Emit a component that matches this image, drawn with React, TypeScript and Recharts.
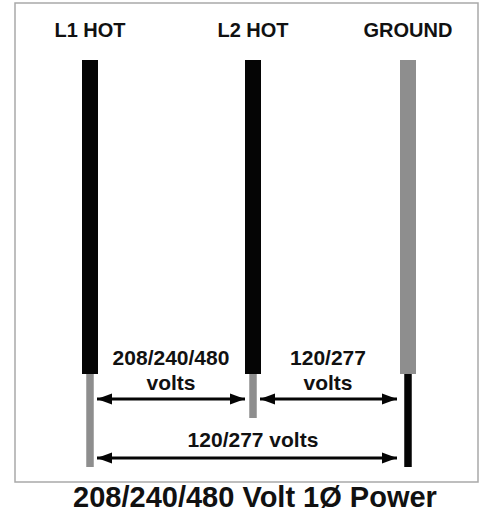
import { ComposedChart, Line, Scatter, XAxis, YAxis, ReferenceArea } from 'recharts';

// wires, left to right
const WIRE_NAMES = ['L1 HOT', 'L2 HOT', 'GROUND'];
const WIRE_X = [90, 253, 408];
const WIRE_TOP = [60, 60, 60];
const WIRE_SPLIT = [374, 374, 374];
const WIRE_END = [467, 418, 467];
const UPPER_IS_BLACK = [true, true, false];

// voltage spans between wires
const SPAN_FROM = [97, 260, 97];
const SPAN_TO = [245, 397, 397];
const SPAN_Y = [399, 399, 458];

// text labels
const HEADER_Y = [37, 37, 37];
const VOLT_TEXT = ['208/240/480', 'volts', '120/277', 'volts', '120/277 volts'];
const VOLT_X = [171, 171, 328, 328, 253];
const VOLT_Y = [365, 390, 365, 390, 447];
const TITLE = '208/240/480 Volt 1Ø Power';

const W = 480;
const H = 514;
const BLACK = '#050505';
const GRAY = '#8e8e8e';
const FONT = '"Liberation Sans", Arial, Helvetica, sans-serif';

const headerData = WIRE_NAMES.map((name, i) => ({ x: WIRE_X[i], y: HEADER_Y[i], text: name }));
const voltData = VOLT_TEXT.map((text, i) => ({ x: VOLT_X[i], y: VOLT_Y[i], text }));
const titleData = [{ x: 255, y: 507, text: TITLE }];

const makeText = (size: number) => (props: any) => {
  const { cx, cy, payload } = props;
  return (
    <text
      x={cx}
      y={cy}
      textAnchor="middle"
      fontFamily={FONT}
      fontWeight="bold"
      fontSize={size}
      fill="#111"
    >
      {payload.text}
    </text>
  );
};

const arrowDot = (props: any) => {
  const { cx, cy, index } = props;
  const dir = index === 0 ? 1 : -1;
  const len = 15;
  const half = 5.5;
  return (
    <path
      key={`a-${index}-${cx}`}
      d={`M${cx},${cy} L${cx + dir * len},${cy - half} L${cx + dir * len},${cy + half} Z`}
      fill={BLACK}
    />
  );
};

export default function App() {
  return (
    <div style={{ position: 'fixed', top: 0, left: 0, background: '#fff' }}>
      <ComposedChart width={W} height={H} margin={{ top: 0, right: 0, bottom: 0, left: 0 }}>
        <XAxis type="number" dataKey="x" domain={[0, W]} hide allowDataOverflow />
        <YAxis type="number" dataKey="y" domain={[0, H]} reversed hide allowDataOverflow />
        <ReferenceArea x1={15} x2={478} y1={3} y2={482} fill="#fff" fillOpacity={1} stroke="#a9a9a9" strokeWidth={1.5} ifOverflow="visible" />

        {WIRE_NAMES.map((name, i) => (
          <Line
            key={`up-${name}`}
            data={[{ x: WIRE_X[i], y: WIRE_TOP[i] }, { x: WIRE_X[i], y: WIRE_SPLIT[i] }]}
            dataKey="y"
            stroke={UPPER_IS_BLACK[i] ? BLACK : GRAY}
            strokeWidth={16}
            strokeLinecap="butt"
            dot={false}
            activeDot={false}
            isAnimationActive={false}
          />
        ))}
        {WIRE_NAMES.map((name, i) => (
          <Line
            key={`low-${name}`}
            data={[{ x: WIRE_X[i], y: WIRE_SPLIT[i] }, { x: WIRE_X[i], y: WIRE_END[i] }]}
            dataKey="y"
            stroke={UPPER_IS_BLACK[i] ? GRAY : BLACK}
            strokeWidth={7.5}
            strokeLinecap="butt"
            dot={false}
            activeDot={false}
            isAnimationActive={false}
          />
        ))}

        {SPAN_FROM.map((from, i) => (
          <Line
            key={`span-${i}`}
            data={[{ x: from, y: SPAN_Y[i] }, { x: SPAN_TO[i], y: SPAN_Y[i] }]}
            dataKey="y"
            stroke={BLACK}
            strokeWidth={3}
            dot={arrowDot}
            activeDot={false}
            isAnimationActive={false}
          />
        ))}

        <Scatter data={headerData} shape={makeText(20)} isAnimationActive={false} />
        <Scatter data={voltData} shape={makeText(21)} isAnimationActive={false} />
        <Scatter data={titleData} shape={makeText(29)} isAnimationActive={false} />
      </ComposedChart>
    </div>
  );
}
